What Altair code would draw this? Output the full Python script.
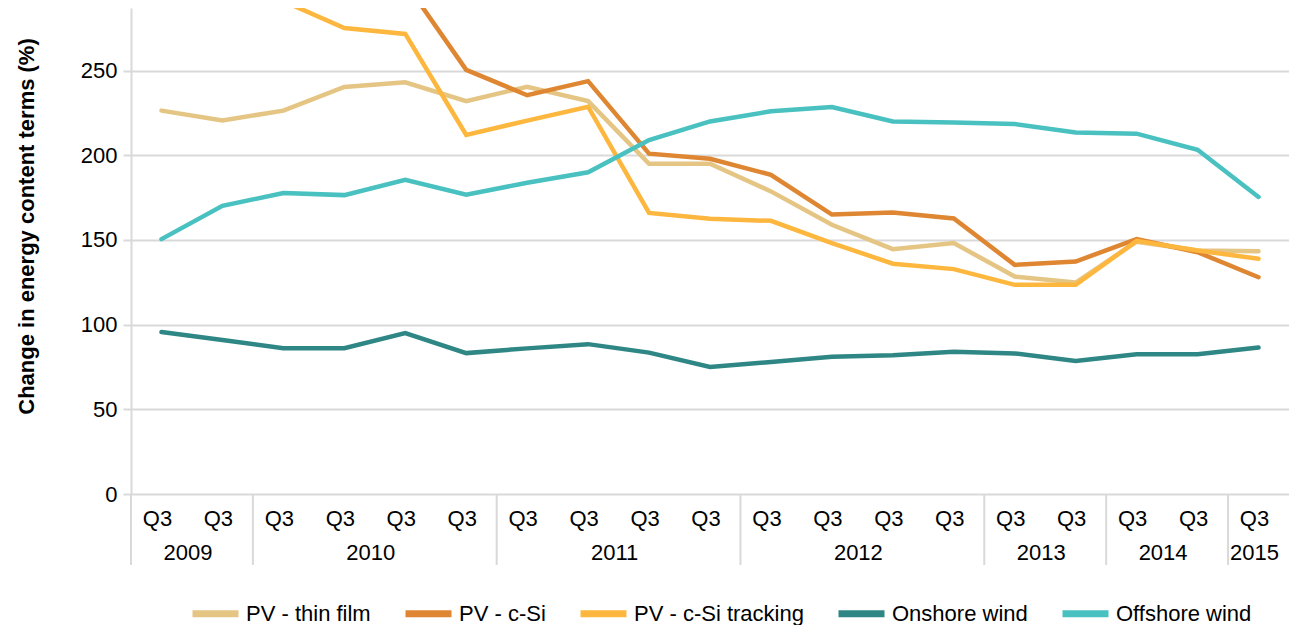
import altair as alt
import pandas as pd

# ---- data ----
quarter_labels = ["Q3"] * 19
year_labels = ["2009", "2010", "2011", "2012", "2013", "2014", "2015"]
year_counts = [2, 4, 4, 4, 2, 2, 1]

series_names = ["PV - thin film", "PV - c-Si", "PV - c-Si tracking", "Onshore wind", "Offshore wind"]
series_colors = ["#E5C584", "#DE8632", "#FDB73E", "#2E8784", "#48C1C0"]

pv_thin_film = [226.4, 220.6, 226.4, 240.4, 243.1, 232.0, 240.5, 232.0, 195.0, 195.0,
                178.7, 159.0, 144.6, 148.2, 128.4, 124.9, 149.0, 143.8, 143.4]
pv_csi = [400.0, 380.0, 355.0, 330.0, 302.0, 250.5, 235.5, 243.8, 201.0, 198.0,
          188.5, 165.0, 166.3, 162.7, 135.3, 137.3, 150.5, 142.8, 128.0]
pv_csi_tracking = [335.0, 315.0, 291.0, 275.2, 271.7, 212.0, 220.5, 228.7, 166.0, 162.5,
                   161.3, 148.2, 136.0, 132.8, 123.5, 123.5, 149.5, 143.8, 138.9]
onshore_wind = [95.7, 91.0, 86.1, 86.1, 95.0, 83.2, 86.0, 88.5, 83.5, 75.0,
                78.0, 81.0, 82.0, 84.0, 83.0, 78.6, 82.5, 82.5, 86.5]
offshore_wind = [150.5, 170.2, 177.7, 176.5, 185.6, 176.7, 183.8, 190.0, 209.0, 220.0,
                 226.0, 228.5, 220.0, 219.4, 218.5, 213.5, 212.8, 203.3, 175.4]

y_ticks = [0, 50, 100, 150, 200, 250]
y_max = 287
y_title = "Change in energy content terms (%)"

# ---- tables ----
series_values = [pv_thin_film, pv_csi, pv_csi_tracking, onshore_wind, offshore_wind]
rows = []
for name, vals in zip(series_names, series_values):
    for i, v in enumerate(vals):
        rows.append({"idx": i, "value": v, "series": name})
df = pd.DataFrame(rows)

df_q = pd.DataFrame({"idx": list(range(len(quarter_labels))), "label": quarter_labels})

year_rows, sep_rows = [], []
start = 0
for yl, n in zip(year_labels, year_counts):
    year_rows.append({"idx": start + (n - 1) / 2.0, "year": yl})
    sep_rows.append({"idx": start - 0.5})
    start += n
df_years = pd.DataFrame(year_rows)
df_sep = pd.DataFrame(sep_rows)

n_pts = len(quarter_labels)
xs = alt.Scale(domain=[-0.5, n_pts - 0.5], nice=False, zero=False)
ys = alt.Scale(domain=[0, y_max], nice=False)

W, H = 1158, 486
GRID = "#D9D9D9"
FONT = "Liberation Sans"

lines = alt.Chart(df).mark_line(strokeWidth=4.5, clip=True, strokeCap="round").encode(
    x=alt.X("idx:Q", scale=xs, axis=None),
    y=alt.Y("value:Q", scale=ys, axis=alt.Axis(
        values=y_ticks, grid=True, gridColor=GRID, gridWidth=2,
        domain=True, domainColor=GRID, domainWidth=2,
        ticks=True, tickColor=GRID, tickSize=8, tickWidth=2,
        labelFontSize=22, labelColor="black", labelPadding=6,
        title=y_title, titleFontSize=22, titleFontWeight="bold", titleColor="black",
        titleAngle=270, titleX=-105, titleY=218, titleAlign="center", titleBaseline="middle",
    )),
    color=alt.Color("series:N", sort=series_names,
                    scale=alt.Scale(domain=series_names, range=series_colors),
                    legend=alt.Legend(
                        orient="none", legendX=58, legendY=579, direction="horizontal",
                        title=None, symbolType="stroke", symbolSize=2116, symbolStrokeWidth=7,
                        labelFontSize=22, labelColor="black", labelOffset=4, columnPadding=20,
                        labelLimit=400, columns=5,
                    )),
)

seps = alt.Chart(df_sep).mark_rule(color=GRID, strokeWidth=2).encode(
    x=alt.X("idx:Q", scale=xs, axis=None),
    y=alt.value(H),
    y2=alt.value(H + 71),
)

quarters = alt.Chart(df_q).mark_text(fontSize=22, baseline="middle", dx=-4, color="black").encode(
    x=alt.X("idx:Q", scale=xs, axis=None),
    y=alt.value(H + 25),
    text="label:N",
)

years = alt.Chart(df_years).mark_text(fontSize=22, baseline="middle", dx=-4, color="black").encode(
    x=alt.X("idx:Q", scale=xs, axis=None),
    y=alt.value(H + 59),
    text="year:N",
)

chart = alt.layer(lines, seps, quarters, years).properties(
    width=W, height=H,
    autosize=alt.AutoSizeParams(type="none"),
    padding={"left": 123, "top": 0, "right": 0, "bottom": 131},
).configure(font=FONT).configure_view(stroke=None)

chart.save("out.html", embed_options={"renderer": "svg", "actions": False})
